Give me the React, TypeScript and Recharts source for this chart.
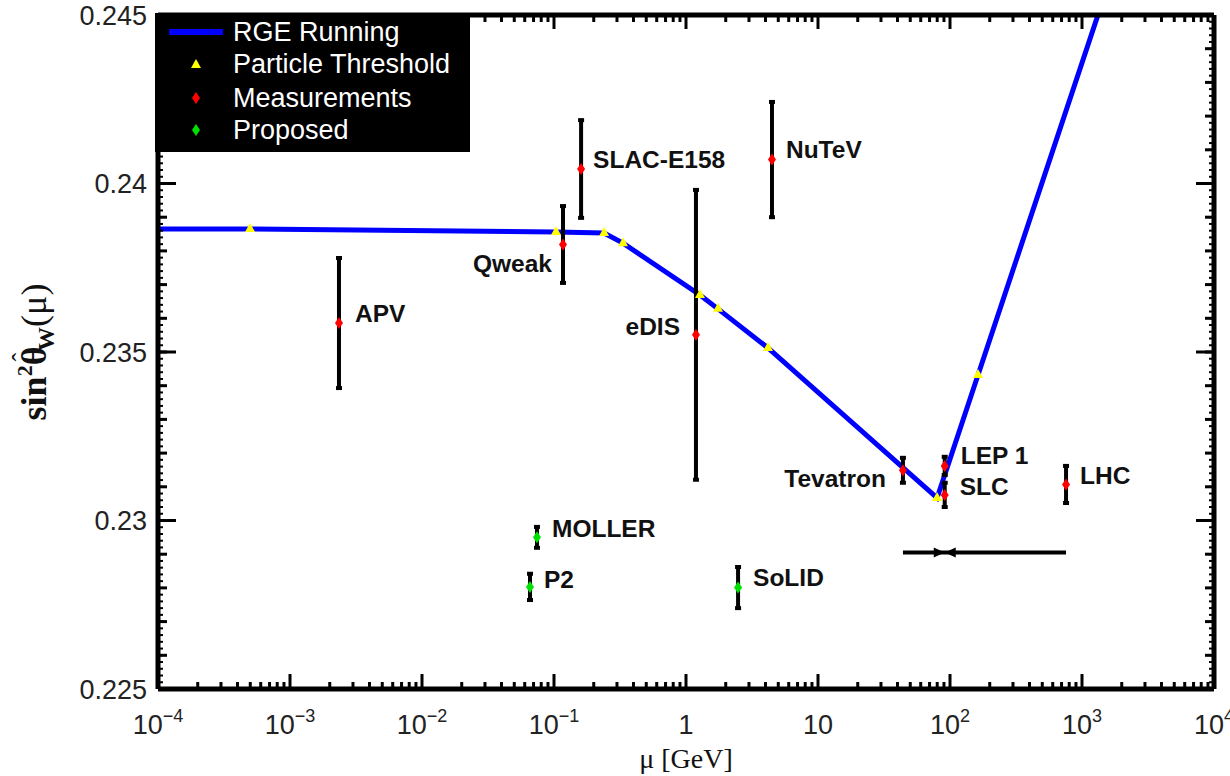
import React from 'react';
import { ComposedChart, Line, Scatter, ErrorBar, XAxis, YAxis, Legend, Label } from 'recharts';

// RGE running of sin^2 theta_W (MS-bar)
const rgeMu = [0.0001, 0.000498, 0.1035, 0.2395, 0.3334, 1.276, 1.747, 4.18, 79.8, 163, 1321];
const rgeVal = [0.23865, 0.23865, 0.23856, 0.23853, 0.23823, 0.23669, 0.23628, 0.23512, 0.23067, 0.23432, 0.245];

// particle thresholds drawn on the curve
const thresholdMu = [0.000498, 0.1035, 0.2395, 0.3334, 1.276, 1.747, 4.18, 79.8, 163];
const thresholdVal = [0.23865, 0.23856, 0.23853, 0.23823, 0.23669, 0.23628, 0.23512, 0.23067, 0.23432];

// existing measurements
const measNames = ['APV', 'Qweak', 'SLAC-E158', 'eDIS', 'NuTeV', 'Tevatron', 'LEP 1', 'SLC', 'LHC'];
const measMu = [0.00235, 0.117, 0.1604, 1.19, 4.48, 44.0, 91.2, 91.2, 757];
const measVal = [0.23586, 0.23819, 0.24043, 0.23551, 0.24071, 0.23149, 0.23162, 0.23076, 0.23107];
const measErr = [0.00193, 0.00114, 0.00145, 0.0043, 0.00171, 0.00037, 0.00027, 0.00036, 0.00055];

// proposed experiments
const propNames = ['MOLLER', 'P2', 'SoLID'];
const propMu = [0.0743, 0.0658, 2.48];
const propVal = [0.2295, 0.22803, 0.22801];
const propErr = [0.00031, 0.00039, 0.00061];

// horizontal range bar with the Z pole marker
const rangeMu = [44.0, 757];
const rangeVal = [0.22905, 0.22905];
const poleMu = [91.2];
const poleVal = [0.22905];

// axes
const xMajor = [1e-4, 1e-3, 1e-2, 1e-1, 1, 10, 100, 1000, 10000];
const xTickBase = ['10', '10', '10', '10', '1', '10', '10', '10', '10'];
const xTickExp = ['\u22124', '\u22123', '\u22122', '\u22121', '', '', '2', '3', '4'];
const yMajor = [0.225, 0.23, 0.235, 0.24, 0.245];
const yTickLabels = ['0.225', '0.23', '0.235', '0.24', '0.245'];

const legendNames = ['RGE Running', 'Particle Threshold', 'Measurements', 'Proposed'];

const X_DOMAIN: [number, number] = [1e-4, 1e4];
const Y_DOMAIN: [number, number] = [0.225, 0.245];

const xMinor: number[] = [];
xMajor.slice(0, -1).forEach((d) => {
  for (let k = 2; k <= 9; k++) xMinor.push(d * k);
});
const yMedium: number[] = [];
for (let i = 1; i < 20; i++) yMedium.push(+(0.225 + i * 0.001).toFixed(4));
const yMinor: number[] = [];
for (let i = 1; i < 100; i++) yMinor.push(+(0.225 + i * 0.0002).toFixed(4));

const rgeData = rgeMu.map((x, i) => ({ x, y: rgeVal[i] }));
const thresholdData = thresholdMu.map((x, i) => ({ x, y: thresholdVal[i] }));
const measData = measMu.map((x, i) => ({ name: measNames[i], x, y: measVal[i], err: measErr[i] }));
const propData = propMu.map((x, i) => ({ name: propNames[i], x, y: propVal[i], err: propErr[i] }));
const rangeData = rangeMu.map((x, i) => ({ x, y: rangeVal[i] }));
const poleData = poleMu.map((x, i) => ({ x, y: poleVal[i] }));

// inward tick marks on the four frame edges
const onBottom = (xs: number[]) => xs.map((x) => ({ x, y: Y_DOMAIN[0] }));
const onTop = (xs: number[]) => xs.map((x) => ({ x, y: Y_DOMAIN[1] }));
const onLeft = (ys: number[]) => ys.map((y) => ({ x: X_DOMAIN[0], y }));
const onRight = (ys: number[]) => ys.map((y) => ({ x: X_DOMAIN[1], y }));

// label placement relative to the marker
const labelPos: Record<string, { dx: number; dy: number; anchor: string }> = {
  APV: { dx: 16, dy: -10, anchor: 'start' },
  Qweak: { dx: -11, dy: 19, anchor: 'end' },
  'SLAC-E158': { dx: 12, dy: -10, anchor: 'start' },
  eDIS: { dx: -16, dy: -8, anchor: 'end' },
  NuTeV: { dx: 14, dy: -10, anchor: 'start' },
  Tevatron: { dx: -17, dy: 8, anchor: 'end' },
  'LEP 1': { dx: 16, dy: -10, anchor: 'start' },
  SLC: { dx: 15, dy: -8, anchor: 'start' },
  LHC: { dx: 14, dy: -9, anchor: 'start' },
  MOLLER: { dx: 15, dy: -9, anchor: 'start' },
  P2: { dx: 14, dy: -7, anchor: 'start' },
  SoLID: { dx: 15, dy: -10, anchor: 'start' },
};

const SANS = '"Liberation Sans", Arial, Helvetica, sans-serif';
const SERIF = '"Liberation Serif", "Times New Roman", serif';
const frame = { stroke: '#000', strokeWidth: 5 };

const Triangle = ({ cx, cy }: any) => (
  <polygon points={`${cx - 5},${cy + 3} ${cx + 5},${cy + 3} ${cx},${cy - 6}`} fill="#ffff00" />
);

const tickMark = (dx: number, dy: number, w: number) => ({ cx, cy }: any) => (
  <line x1={cx} y1={cy} x2={cx + dx} y2={cy + dy} stroke="#000" strokeWidth={w} />
);

const makeDiamond = (fill: string) => (props: any) => {
  const { cx, cy, payload } = props;
  const pos = labelPos[payload.name];
  return (
    <g>
      <polygon points={`${cx},${cy - 6} ${cx + 4},${cy} ${cx},${cy + 6} ${cx - 4},${cy}`} fill={fill} />
      {pos && (
        <text
          x={cx + pos.dx}
          y={cy + pos.dy}
          textAnchor={pos.anchor as any}
          dominantBaseline="central"
          fontFamily={SANS}
          fontWeight="bold"
          fontSize={24.5}
          fill="#111"
        >
          {payload.name}
        </text>
      )}
    </g>
  );
};

const Bowtie = ({ cx, cy }: any) => (
  <g fill="#000">
    <polygon points={`${cx - 11},${cy - 5} ${cx - 11},${cy + 5} ${cx},${cy}`} />
    <polygon points={`${cx + 11},${cy - 5} ${cx + 11},${cy + 5} ${cx},${cy}`} />
  </g>
);

const XTick = ({ x, y, index }: any) => (
  <text x={x} y={y + 37} textAnchor="middle" fontFamily={SANS} fontSize={27} fill="#222">
    {xTickBase[index]}
    {xTickExp[index] && (
      <tspan dy={-12} fontSize={18}>
        {xTickExp[index]}
      </tspan>
    )}
  </text>
);

const YTitle = () => (
  <text
    transform="translate(46,352) rotate(-90)"
    textAnchor="middle"
    fontFamily={SERIF}
    fontWeight="bold"
    fontSize={36}
    fill="#111"
  >
    sin
    <tspan dy={-14} fontSize={22}>2</tspan>
    <tspan dy={14}>{'\u03B8'}</tspan>
    <tspan dx={-15} dy={-16} fontSize={26} fontWeight="normal">{'\u02C6'}</tspan>
    <tspan dx={2} dy={24} fontSize={24}>W</tspan>
    <tspan dy={-8} fontWeight="normal">{'(\u03BC)'}</tspan>
  </text>
);

const XTitle = () => (
  <text x={686} y={768} textAnchor="middle" fontFamily={SERIF} fontSize={28} fill="#111">
    {'\u03BC [GeV]'}
  </text>
);

const LegendBox = () => (
  <svg width={315} height={139} style={{ display: 'block' }}>
    <rect x={0} y={0} width={315} height={139} fill="#000" />
    {legendNames.map((name, i) => {
      const cy = [19, 51, 85, 117][i];
      return (
        <g key={name}>
          {i === 0 && <line x1={14} x2={68} y1={cy} y2={cy} stroke="#0000ff" strokeWidth={6} />}
          {i === 1 && <Triangle cx={41} cy={cy + 1} />}
          {i === 2 && <polygon points={`41,${cy - 6} 45,${cy} 41,${cy + 6} 37,${cy}`} fill="#ff0000" />}
          {i === 3 && <polygon points={`41,${cy - 6} 45,${cy} 41,${cy + 6} 37,${cy}`} fill="#00e000" />}
          <text x={78} y={cy} dominantBaseline="central" fontFamily={SANS} fontSize={27} fill="#fff">
            {name}
          </text>
        </g>
      );
    })}
  </svg>
);

const tickSets = [
  { key: 'bMaj', data: onBottom(xMajor), shape: tickMark(0, -15, 3) },
  { key: 'bMin', data: onBottom(xMinor), shape: tickMark(0, -7, 3) },
  { key: 'tMaj', data: onTop(xMajor), shape: tickMark(0, 14, 3) },
  { key: 'tMin', data: onTop(xMinor), shape: tickMark(0, 7, 3) },
  { key: 'lMaj', data: onLeft(yMajor), shape: tickMark(18, 0, 3) },
  { key: 'lMed', data: onLeft(yMedium), shape: tickMark(9, 0, 3) },
  { key: 'lMin', data: onLeft(yMinor), shape: tickMark(5, 0, 2) },
  { key: 'rMaj', data: onRight(yMajor), shape: tickMark(-18, 0, 3) },
  { key: 'rMed', data: onRight(yMedium), shape: tickMark(-9, 0, 3) },
  { key: 'rMin', data: onRight(yMinor), shape: tickMark(-5, 0, 2) },
];

export default function App() {
  return (
    <div style={{ position: 'absolute', left: 0, top: 0, background: '#fff' }}>
      <ComposedChart width={1230} height={776} margin={{ top: 15, right: 16, bottom: 0, left: 0 }}>
        <XAxis
          xAxisId="x"
          dataKey="x"
          type="number"
          scale="log"
          domain={X_DOMAIN}
          allowDataOverflow
          interval={0}
          orientation="bottom"
          height={87}
          ticks={xMajor}
          tickLine={false}
          axisLine={frame}
          tick={<XTick />}
        >
          <Label content={<XTitle />} />
        </XAxis>
        <XAxis
          xAxisId="xt"
          type="number"
          scale="log"
          domain={X_DOMAIN}
          allowDataOverflow
          orientation="top"
          mirror
          height={1}
          ticks={xMajor}
          tick={false}
          tickLine={false}
          axisLine={frame}
        />
        <YAxis
          yAxisId="y"
          dataKey="y"
          type="number"
          domain={Y_DOMAIN}
          allowDataOverflow
          interval={0}
          width={158}
          ticks={yMajor}
          tickLine={false}
          tickSize={0}
          tickMargin={11}
          axisLine={frame}
          tickFormatter={(v: number) => yTickLabels[yMajor.indexOf(v)] ?? String(v)}
          tick={{ fontFamily: SANS, fontSize: 27, fill: '#222' }}
        >
          <Label content={<YTitle />} />
        </YAxis>
        <YAxis
          yAxisId="yr"
          type="number"
          domain={Y_DOMAIN}
          allowDataOverflow
          orientation="right"
          mirror
          width={1}
          ticks={yMajor}
          tick={false}
          tickLine={false}
          axisLine={frame}
        />

        {tickSets.map((t) => (
          <Scatter
            key={t.key}
            xAxisId="x"
            yAxisId="y"
            data={t.data}
            dataKey="y"
            legendType="none"
            shape={t.shape}
            isAnimationActive={false}
          />
        ))}

        <Line
          xAxisId="x"
          yAxisId="y"
          data={rgeData}
          dataKey="y"
          name="RGE Running"
          type="linear"
          stroke="#0000ff"
          strokeWidth={5}
          dot={false}
          activeDot={false}
          isAnimationActive={false}
        />
        <Scatter
          xAxisId="x"
          yAxisId="y"
          data={thresholdData}
          dataKey="y"
          name="Particle Threshold"
          shape={<Triangle />}
          isAnimationActive={false}
        />
        <Line
          xAxisId="x"
          yAxisId="y"
          data={rangeData}
          dataKey="y"
          name="range"
          legendType="none"
          stroke="#000"
          strokeWidth={4}
          dot={false}
          activeDot={false}
          isAnimationActive={false}
        />
        <Scatter
          xAxisId="x"
          yAxisId="y"
          data={poleData}
          dataKey="y"
          name="pole"
          legendType="none"
          shape={<Bowtie />}
          isAnimationActive={false}
        />
        <Scatter
          xAxisId="x"
          yAxisId="y"
          data={measData}
          dataKey="y"
          name="Measurements"
          shape={makeDiamond('#ff0000')}
          isAnimationActive={false}
        >
          <ErrorBar dataKey="err" direction="y" width={3} strokeWidth={4} stroke="#000" isAnimationActive={false} />
        </Scatter>
        <Scatter
          xAxisId="x"
          yAxisId="y"
          data={propData}
          dataKey="y"
          name="Proposed"
          shape={makeDiamond('#00e000')}
          isAnimationActive={false}
        >
          <ErrorBar dataKey="err" direction="y" width={3} strokeWidth={4} stroke="#000" isAnimationActive={false} />
        </Scatter>

        <Legend
          layout="vertical"
          align="center"
          verticalAlign="middle"
          wrapperStyle={{ left: 155, top: 13, width: 315, height: 139 }}
          content={<LegendBox />}
        />
      </ComposedChart>
    </div>
  );
}
